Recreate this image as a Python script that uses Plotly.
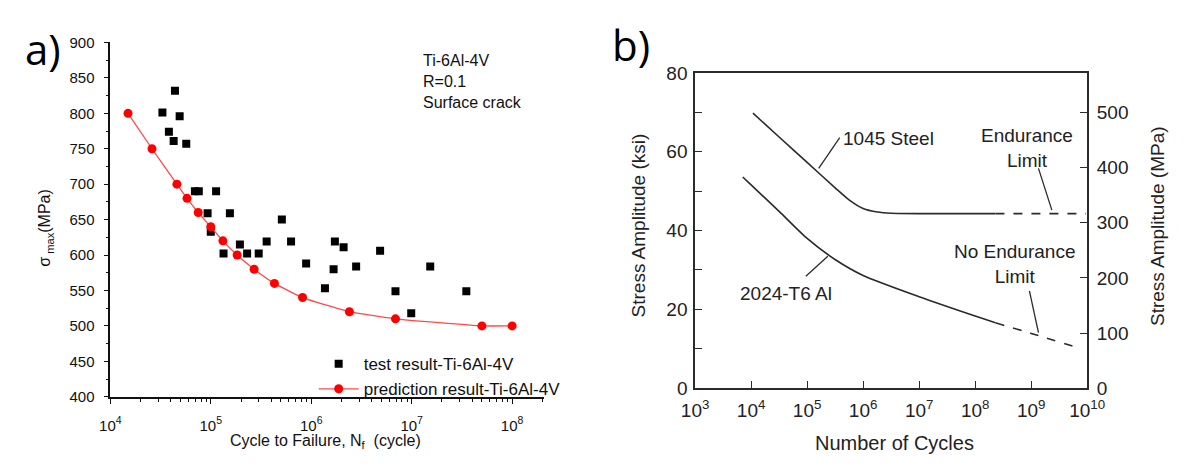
import plotly.graph_objects as go

# ---------- panel a) Ti-6Al-4V, R=0.1, surface crack ----------
test_cycles = [4.4e4, 3.3e4, 4.9e4, 3.83e4, 4.27e4, 5.7e4, 6.95e4, 7.6e4, 1.13e5,
               9.3e4, 1.55e5, 5.1e5, 1.0e5, 1.34e5, 1.95e5, 2.3e5, 3.0e5, 3.6e5,
               6.3e5, 8.9e5, 1.37e6, 1.67e6, 1.72e6, 2.1e6, 2.8e6, 4.85e6, 6.9e6,
               1.53e7, 9.9e6, 3.5e7]
test_stress = [832, 801, 796, 774, 761, 757, 690, 690, 690,
               659, 659, 650, 633, 602, 615, 602, 602, 619,
               619, 588, 553, 580, 619, 611, 584, 606, 549,
               584, 518, 549]

pred_cycles = [1.5e4, 2.6e4, 4.6e4, 5.8e4, 7.5e4, 1.0e5, 1.32e5, 1.83e5, 2.7e5,
               4.3e5, 8.2e5, 2.4e6, 6.9e6, 5.0e7, 1.0e8]
pred_stress = [800, 750, 700, 680, 660, 640, 620, 600, 580,
               560, 540, 520, 510, 500, 500]

a_xtick_vals = [1e4, 1e5, 1e6, 1e7, 1e8]
a_xtick_text = ["10<sup>4</sup>", "10<sup>5</sup>", "10<sup>6</sup>", "10<sup>7</sup>", "10<sup>8</sup>"]

# ---------- panel b) S-N curves, steel vs aluminium ----------
steel_cycles = [1.08e4, 3.2e4, 1.0e5, 3.2e5, 5.6e5, 1.0e6, 1.8e6, 3.2e6, 1.0e7, 2.3e8]
steel_ksi = [69.8, 63.7, 57.3, 50.8, 47.8, 45.6, 44.7, 44.4, 44.3, 44.3]
steel_ext_cycles = [2.3e8, 9.5e9]
steel_ext_ksi = [44.3, 44.3]

al_cycles = [7.1e3, 1.0e4, 3.2e4, 1.0e5, 3.2e5, 1.0e6, 1.0e7, 1.0e8, 2.3e8]
al_ksi = [53.6, 51.6, 44.8, 38.0, 32.6, 28.6, 23.2, 18.3, 16.6]
al_ext_cycles = [2.3e8, 1.0e9, 7.8e9]
al_ext_ksi = [16.6, 13.9, 10.0]

b_xtick_vals = [1e3, 1e4, 1e5, 1e6, 1e7, 1e8, 1e9, 1e10]
b_xtick_text = ["10<sup>3</sup>", "10<sup>4</sup>", "10<sup>5</sup>", "10<sup>6</sup>",
                "10<sup>7</sup>", "10<sup>8</sup>", "10<sup>9</sup>", "10<sup>10</sup>"]
ksi_ticks = [0, 10, 20, 30, 40, 50, 60, 70, 80]
ksi_labels = ["0", "", "20", "", "40", "", "60", "", "80"]
mpa_ticks = [0, 100, 200, 300, 400, 500]
MPA_PER_KSI = 50 / 7  # right-hand scale of the b) panel

# leader lines for the b) labels: (cycles, ksi) pairs
leader_steel = ([1.61e5, 3.82e5], [55.8, 63.6])
leader_al = ([9.5e4, 2.34e5], [28.4, 33.5])
leader_endurance = ([1.35e9, 2.34e9], [55.8, 45.2])
leader_no_endurance = ([9.3e8, 1.35e9], [24.7, 14.1])

W, H = 1184, 466
FONT = "Liberation Sans, Arial, sans-serif"
CURVE = "#2b2b2b"

fig = go.Figure()

fig.add_trace(go.Scatter(
    x=test_cycles, y=test_stress, mode="markers", name="test result-Ti-6Al-4V",
    marker=dict(symbol="square", size=8, color="black"),
    xaxis="x", yaxis="y"))
fig.add_trace(go.Scatter(
    x=pred_cycles, y=pred_stress, mode="lines+markers", name="prediction result-Ti-6Al-4V",
    line=dict(color="#ff4a4a", width=1.3, shape="spline", smoothing=0.4),
    marker=dict(symbol="circle", size=9, color="#ff0000"),
    xaxis="x", yaxis="y"))

for xs, ys, dash in [(steel_cycles, steel_ksi, "solid"),
                     (steel_ext_cycles, steel_ext_ksi, "dash"),
                     (al_cycles, al_ksi, "solid"),
                     (al_ext_cycles, al_ext_ksi, "dash")]:
    fig.add_trace(go.Scatter(
        x=xs, y=ys, mode="lines", showlegend=False, hoverinfo="skip",
        line=dict(color=CURVE, width=1.6, dash=dash, shape="spline", smoothing=0.6),
        xaxis="x2", yaxis="y2"))

for xs, ys in [leader_steel, leader_al, leader_endurance, leader_no_endurance]:
    fig.add_trace(go.Scatter(
        x=xs, y=ys, mode="lines", showlegend=False, hoverinfo="skip",
        line=dict(color=CURVE, width=1.3), xaxis="x2", yaxis="y2"))

# invisible trace so the MPa axis is drawn
fig.add_trace(go.Scatter(
    x=[1e3], y=[0], mode="markers", marker=dict(opacity=0), showlegend=False,
    hoverinfo="skip", xaxis="x2", yaxis="y3"))


def px_x(p):
    return p / W


def px_y(p):
    return (H - p) / H


axis_a = dict(showline=True, linecolor="#111", linewidth=1.6, showgrid=False,
              zeroline=False, ticks="outside", tickcolor="#111", tickwidth=1.4,
              tickfont=dict(family=FONT, size=15, color="#111"))
axis_b = dict(showline=True, linecolor=CURVE, linewidth=1.6, showgrid=False,
              zeroline=False, ticks="inside", tickcolor=CURVE, tickwidth=1.4, ticklen=7,
              tickfont=dict(family=FONT, size=19, color="#222"))

fig.update_layout(
    width=W, height=H, margin=dict(l=0, r=0, t=0, b=0),
    paper_bgcolor="white", plot_bgcolor="white",
    font=dict(family=FONT, color="#111"),
    xaxis=dict(axis_a, type="log", range=[4, 8.32], domain=[px_x(99), px_x(545)],
               anchor="y", tickvals=a_xtick_vals, ticktext=a_xtick_text, ticklen=5,
               ticklabelstandoff=9,
               minor=dict(ticks="outside", ticklen=3, tickcolor="#111", tickwidth=1.2,
                          dtick="D1", showgrid=False)),
    yaxis=dict(axis_a, range=[400, 900], domain=[px_y(405), px_y(34)], anchor="x",
               dtick=50, ticklen=5, ticklabelstandoff=6,
               minor=dict(ticks="outside", ticklen=3, dtick=25, tickcolor="#111",
                          tickwidth=1.2, showgrid=False)),
    xaxis2=dict(axis_b, type="log", range=[3, 10], domain=[px_x(700), px_x(1103)],
                anchor="y2", mirror=True, tickvals=b_xtick_vals, ticktext=b_xtick_text,
                ticklabelstandoff=4),
    yaxis2=dict(axis_b, range=[0, 80], domain=[px_y(396), px_y(66)], anchor="x2",
                tickvals=ksi_ticks, ticktext=ksi_labels, ticklabelstandoff=2),
    yaxis3=dict(axis_b, range=[0, 80 * MPA_PER_KSI], overlaying="y2", anchor="x2",
                side="right", tickvals=mpa_ticks, ticklabelstandoff=4),
    legend=dict(x=px_x(308), y=px_y(352), xanchor="left", yanchor="top",
                bgcolor="rgba(0,0,0,0)", font=dict(family=FONT, size=17, color="#111"),
                tracegroupgap=0, itemwidth=40),
    showlegend=True,
)

ann = []


def add_text(text, x, y, size, xref="paper", yref="paper", xanchor="center",
             angle=0, family=FONT, color="#111"):
    ann.append(dict(text=text, x=x, y=y, xref=xref, yref=yref, xanchor=xanchor,
                    yanchor="middle", showarrow=False, textangle=angle,
                    font=dict(family=family, size=size, color=color)))


# panel letters
add_text("a)", px_x(30), px_y(40), 42, family="Open Sans, sans-serif", color="black")
add_text("b)", px_x(634), px_y(36), 42, family="Open Sans, sans-serif", color="black")
# panel a) notes
for txt, yy in [("Ti-6Al-4V", 53), ("R=0.1", 75), ("Surface crack", 97)]:
    add_text(txt, px_x(418), px_y(yy), 16, xanchor="left")
# panel a) axis titles
add_text("Cycle to Failure, N<sub>f</sub>  (cycle)", px_x(320), px_y(452), 16)
add_text("σ<sub> max</sub>(MPa)", px_x(33), px_y(228), 16, angle=-90)
# panel b) axis titles
add_text("Number of Cycles", px_x(905), px_y(453), 20, color="#222")
add_text("Stress Amplitude (ksi)", px_x(642), px_y(226), 19, angle=-90, color="#222")
add_text("Stress Amplitude (MPa)", px_x(1176), px_y(226), 19, angle=-90, color="#222")
# panel b) curve labels (log10 positions on the cycles axis)
for txt, lx, ly, anchor in [("1045 Steel", 5.6, 63.5, "left"),
                            ("Endurance<br>Limit", 8.92, 61.0, "center"),
                            ("No Endurance<br>Limit", 8.7, 31.6, "center"),
                            ("2024-T6 Al", 4.62, 24.0, "center")]:
    add_text(txt, lx, ly, 19, xref="x2", yref="y2", xanchor=anchor, color="#222")

fig.update_layout(annotations=ann)

fig.write_html("out.html")
